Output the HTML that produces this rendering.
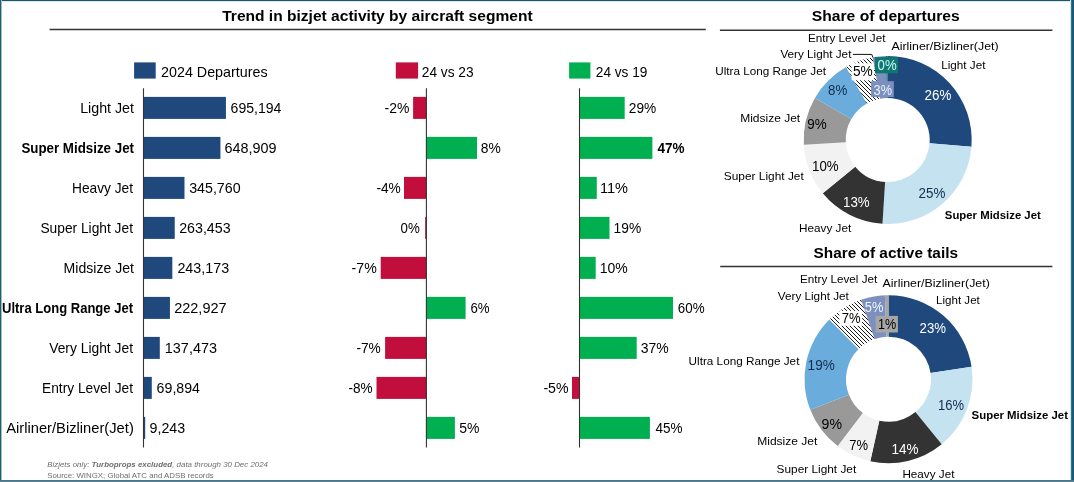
<!DOCTYPE html>
<html><head><meta charset="utf-8"><title>Bizjet activity</title><style>html,body{margin:0;padding:0;background:#fff}svg{display:block;will-change:transform}text{font-family:"Liberation Sans",sans-serif}</style></head><body>
<svg width="1074" height="482" viewBox="0 0 1074 482" font-family="Liberation Sans, sans-serif">
<defs><pattern id="hatch" patternUnits="userSpaceOnUse" width="4" height="4"><rect width="4" height="4" fill="#fff"/><path d="M-1,-1 L5,5 M-1,3 L1,5 M3,-1 L5,1" stroke="#000" stroke-width="0.9"/></pattern></defs>
<rect width="1074" height="482" fill="#fff"/>
<rect x="144" y="96.90" width="81.92" height="22.0" fill="#1f497d"/>
<rect x="144" y="136.90" width="76.43" height="22.0" fill="#1f497d"/>
<rect x="144" y="176.90" width="40.49" height="22.0" fill="#1f497d"/>
<rect x="144" y="216.90" width="30.73" height="22.0" fill="#1f497d"/>
<rect x="144" y="256.90" width="28.33" height="22.0" fill="#1f497d"/>
<rect x="144" y="296.90" width="25.93" height="22.0" fill="#1f497d"/>
<rect x="144" y="336.90" width="15.80" height="22.0" fill="#1f497d"/>
<rect x="144" y="376.90" width="7.79" height="22.0" fill="#1f497d"/>
<rect x="144" y="416.90" width="1.20" height="22.0" fill="#1f497d"/>
<rect x="413.10" y="96.90" width="13.30" height="22.0" fill="#c20e3d"/>
<rect x="426.40" y="136.90" width="50.60" height="22.0" fill="#00b050"/>
<rect x="404.00" y="176.90" width="22.40" height="22.0" fill="#c20e3d"/>
<rect x="425.20" y="216.90" width="1.20" height="22.0" fill="#c20e3d"/>
<rect x="380.70" y="256.90" width="45.70" height="22.0" fill="#c20e3d"/>
<rect x="426.40" y="296.90" width="39.20" height="22.0" fill="#00b050"/>
<rect x="385.10" y="336.90" width="41.30" height="22.0" fill="#c20e3d"/>
<rect x="376.50" y="376.90" width="49.90" height="22.0" fill="#c20e3d"/>
<rect x="426.40" y="416.90" width="28.50" height="22.0" fill="#00b050"/>
<rect x="579.60" y="96.90" width="45.10" height="22.0" fill="#00b050"/>
<rect x="579.60" y="136.90" width="72.80" height="22.0" fill="#00b050"/>
<rect x="579.60" y="176.90" width="17.20" height="22.0" fill="#00b050"/>
<rect x="579.60" y="216.90" width="29.90" height="22.0" fill="#00b050"/>
<rect x="579.60" y="256.90" width="16.10" height="22.0" fill="#00b050"/>
<rect x="579.60" y="296.90" width="93.40" height="22.0" fill="#00b050"/>
<rect x="579.60" y="336.90" width="57.10" height="22.0" fill="#00b050"/>
<rect x="572.00" y="376.90" width="7.60" height="22.0" fill="#c20e3d"/>
<rect x="579.60" y="416.90" width="70.30" height="22.0" fill="#00b050"/>
<line x1="143.5" y1="88.2" x2="143.5" y2="447.6" stroke="#333" stroke-width="1.1"/>
<line x1="426.4" y1="88.2" x2="426.4" y2="447.6" stroke="#333" stroke-width="1.1"/>
<line x1="579.5" y1="88.2" x2="579.5" y2="447.6" stroke="#333" stroke-width="1.1"/>
<rect x="134.1" y="62.4" width="21.6" height="16.2" fill="#1f497d"/>
<rect x="395.8" y="62.4" width="22.3" height="16.2" fill="#c20e3d"/>
<rect x="569.1" y="62.4" width="21.3" height="16.2" fill="#00b050"/>
<line x1="49.6" y1="29.6" x2="705.8" y2="29.6" stroke="#333" stroke-width="1.5"/>
<line x1="719.9" y1="30.3" x2="1052.4" y2="30.3" stroke="#333" stroke-width="1.5"/>
<line x1="720.2" y1="266.5" x2="1052.4" y2="266.5" stroke="#333" stroke-width="1.5"/>
<path d="M887.700,56.000 A84,84 0 0 1 971.429,146.737 L929.565,143.368 A42,42 0 0 0 887.700,98.000 Z" fill="#1f497d"/>
<path d="M971.429,146.737 A84,84 0 0 1 882.484,223.838 L885.092,181.919 A42,42 0 0 0 929.565,143.368 Z" fill="#c4e2f0"/>
<path d="M882.484,223.838 A84,84 0 0 1 822.790,193.317 L855.245,166.659 A42,42 0 0 0 885.092,181.919 Z" fill="#333333"/>
<path d="M822.790,193.317 A84,84 0 0 1 803.834,144.748 L845.767,142.374 A42,42 0 0 0 855.245,166.659 Z" fill="#f2f2f2"/>
<path d="M803.834,144.748 A84,84 0 0 1 814.932,98.038 L851.316,119.019 A42,42 0 0 0 845.767,142.374 Z" fill="#999999"/>
<path d="M814.932,98.038 A84,84 0 0 1 846.081,67.035 L866.891,103.517 A42,42 0 0 0 851.316,119.019 Z" fill="#6aaddd"/>
<path d="M846.081,67.035 A84,84 0 0 1 872.681,57.354 L880.190,98.677 A42,42 0 0 0 866.891,103.517 Z" fill="url(#hatch)"/>
<path d="M872.681,57.354 A84,84 0 0 1 885.853,56.020 L886.776,98.010 A42,42 0 0 0 880.190,98.677 Z" fill="#7d8fbf"/>
<path d="M885.853,56.020 A84,84 0 0 1 887.700,56.000 L887.700,98.000 A42,42 0 0 0 886.776,98.010 Z" fill="#0f7670"/>
<path d="M888.500,295.200 A84,84 0 0 1 971.577,366.784 L930.533,372.918 A42.5,42.5 0 0 0 888.500,336.700 Z" fill="#1f497d"/>
<path d="M971.577,366.784 A84,84 0 0 1 941.704,444.203 L915.419,412.088 A42.5,42.5 0 0 0 930.533,372.918 Z" fill="#c4e2f0"/>
<path d="M941.704,444.203 A84,84 0 0 1 870.319,461.209 L879.301,420.693 A42.5,42.5 0 0 0 915.419,412.088 Z" fill="#333333"/>
<path d="M870.319,461.209 A84,84 0 0 1 837.714,446.109 L862.805,413.053 A42.5,42.5 0 0 0 879.301,420.693 Z" fill="#f2f2f2"/>
<path d="M837.714,446.109 A84,84 0 0 1 810.291,409.850 L848.930,394.707 A42.5,42.5 0 0 0 862.805,413.053 Z" fill="#999999"/>
<path d="M810.291,409.850 A84,84 0 0 1 829.415,319.493 L858.606,348.991 A42.5,42.5 0 0 0 848.930,394.707 Z" fill="#6aaddd"/>
<path d="M829.415,319.493 A84,84 0 0 1 861.152,299.776 L874.663,339.015 A42.5,42.5 0 0 0 858.606,348.991 Z" fill="url(#hatch)"/>
<path d="M861.152,299.776 A84,84 0 0 1 884.836,295.280 L886.646,336.740 A42.5,42.5 0 0 0 874.663,339.015 Z" fill="#7d8fbf"/>
<path d="M884.836,295.280 A84,84 0 0 1 888.500,295.200 L888.500,336.700 A42.5,42.5 0 0 0 886.646,336.740 Z" fill="#a6a6a6"/>
<rect x="874.9" y="57.1" width="23.1" height="16.2" fill="#0f7670"/>
<rect x="871.1" y="81.2" width="22.7" height="15.9" fill="#7d8fbf"/>
<rect x="851.6" y="63.3" width="22.4" height="17.0" fill="#ffffff"/>
<rect x="875.6" y="315.9" width="22.3" height="16.6" fill="#a6a6a6"/>
<rect x="839.3" y="310.9" width="22.8" height="14.9" fill="#ffffff"/>
<polyline points="852.9,54.4 871.8,54.4 872.9,57.5" fill="none" stroke="#111" stroke-width="1"/>
<text x="222.20" y="20.80" font-size="15.5" textLength="310.40" lengthAdjust="spacingAndGlyphs" font-weight="bold">Trend in bizjet activity by aircraft segment</text>
<text x="811.80" y="20.90" font-size="15.0" textLength="148.00" lengthAdjust="spacingAndGlyphs" font-weight="bold">Share of departures</text>
<text x="813.60" y="258.00" font-size="15.0" textLength="144.40" lengthAdjust="spacingAndGlyphs" font-weight="bold">Share of active tails</text>
<text x="161.00" y="76.60" font-size="14.4" textLength="106.60" lengthAdjust="spacingAndGlyphs">2024 Departures</text>
<text x="421.80" y="76.60" font-size="14.4" textLength="51.80" lengthAdjust="spacingAndGlyphs">24 vs 23</text>
<text x="595.80" y="76.60" font-size="14.4" textLength="51.60" lengthAdjust="spacingAndGlyphs">24 vs 19</text>
<text x="80.20" y="112.90" font-size="14.4" textLength="53.80" lengthAdjust="spacingAndGlyphs">Light Jet</text>
<text x="21.40" y="152.90" font-size="14.4" textLength="112.60" lengthAdjust="spacingAndGlyphs" font-weight="bold">Super Midsize Jet</text>
<text x="72.00" y="192.90" font-size="14.4" textLength="61.00" lengthAdjust="spacingAndGlyphs">Heavy Jet</text>
<text x="40.40" y="232.90" font-size="14.4" textLength="92.60" lengthAdjust="spacingAndGlyphs">Super Light Jet</text>
<text x="63.60" y="272.90" font-size="14.4" textLength="70.40" lengthAdjust="spacingAndGlyphs">Midsize Jet</text>
<text x="2.00" y="312.90" font-size="14.4" textLength="131.00" lengthAdjust="spacingAndGlyphs" font-weight="bold">Ultra Long Range Jet</text>
<text x="49.20" y="352.90" font-size="14.4" textLength="83.80" lengthAdjust="spacingAndGlyphs">Very Light Jet</text>
<text x="42.00" y="392.90" font-size="14.4" textLength="91.00" lengthAdjust="spacingAndGlyphs">Entry Level Jet</text>
<text x="6.20" y="432.90" font-size="14.4" textLength="127.60" lengthAdjust="spacingAndGlyphs">Airliner/Bizliner(Jet)</text>
<text x="230.60" y="112.90" font-size="14.4" textLength="50.80" lengthAdjust="spacingAndGlyphs">695,194</text>
<text x="224.40" y="152.90" font-size="14.4" textLength="52.00" lengthAdjust="spacingAndGlyphs">648,909</text>
<text x="189.20" y="192.90" font-size="14.4" textLength="51.40" lengthAdjust="spacingAndGlyphs">345,760</text>
<text x="179.20" y="232.90" font-size="14.4" textLength="51.40" lengthAdjust="spacingAndGlyphs">263,453</text>
<text x="177.40" y="272.90" font-size="14.4" textLength="51.80" lengthAdjust="spacingAndGlyphs">243,173</text>
<text x="174.20" y="312.90" font-size="14.4" textLength="52.40" lengthAdjust="spacingAndGlyphs">222,927</text>
<text x="164.80" y="352.90" font-size="14.4" textLength="52.20" lengthAdjust="spacingAndGlyphs">137,473</text>
<text x="156.60" y="392.90" font-size="14.4" textLength="43.40" lengthAdjust="spacingAndGlyphs">69,894</text>
<text x="149.60" y="432.90" font-size="14.4" textLength="35.60" lengthAdjust="spacingAndGlyphs">9,243</text>
<text x="384.60" y="112.90" font-size="14.4" textLength="24.80" lengthAdjust="spacingAndGlyphs">-2%</text>
<text x="480.80" y="152.90" font-size="14.4" textLength="20.00" lengthAdjust="spacingAndGlyphs">8%</text>
<text x="376.40" y="192.90" font-size="14.4" textLength="24.40" lengthAdjust="spacingAndGlyphs">-4%</text>
<text x="400.60" y="232.90" font-size="14.4" textLength="19.20" lengthAdjust="spacingAndGlyphs">0%</text>
<text x="351.60" y="272.90" font-size="14.4" textLength="25.20" lengthAdjust="spacingAndGlyphs">-7%</text>
<text x="470.40" y="312.90" font-size="14.4" textLength="19.20" lengthAdjust="spacingAndGlyphs">6%</text>
<text x="356.40" y="352.90" font-size="14.4" textLength="24.40" lengthAdjust="spacingAndGlyphs">-7%</text>
<text x="348.40" y="392.90" font-size="14.4" textLength="24.20" lengthAdjust="spacingAndGlyphs">-8%</text>
<text x="459.20" y="432.90" font-size="14.4" textLength="20.20" lengthAdjust="spacingAndGlyphs">5%</text>
<text x="628.80" y="112.90" font-size="14.4" textLength="27.40" lengthAdjust="spacingAndGlyphs">29%</text>
<text x="657.40" y="152.90" font-size="14.4" textLength="27.00" lengthAdjust="spacingAndGlyphs" font-weight="bold">47%</text>
<text x="600.00" y="192.90" font-size="14.4" textLength="28.00" lengthAdjust="spacingAndGlyphs">11%</text>
<text x="613.60" y="232.90" font-size="14.4" textLength="27.60" lengthAdjust="spacingAndGlyphs">19%</text>
<text x="599.80" y="272.90" font-size="14.4" textLength="28.00" lengthAdjust="spacingAndGlyphs">10%</text>
<text x="677.80" y="312.90" font-size="14.4" textLength="26.80" lengthAdjust="spacingAndGlyphs">60%</text>
<text x="640.80" y="352.90" font-size="14.4" textLength="28.00" lengthAdjust="spacingAndGlyphs">37%</text>
<text x="543.40" y="392.90" font-size="14.4" textLength="25.20" lengthAdjust="spacingAndGlyphs">-5%</text>
<text x="655.60" y="432.90" font-size="14.4" textLength="27.00" lengthAdjust="spacingAndGlyphs">45%</text>
<text x="47.20" y="467.30" font-size="8.0" textLength="220.80" lengthAdjust="spacingAndGlyphs" fill="#6e6e6e" font-style="italic"><tspan>Bizjets only: </tspan><tspan font-weight="bold">Turboprops excluded</tspan><tspan>, data through 30 Dec 2024</tspan></text>
<text x="47.20" y="478.30" font-size="8.0" textLength="166.60" lengthAdjust="spacingAndGlyphs" fill="#6e6e6e">Source: WINGX; Global ATC and ADSB records</text>
<text x="808.00" y="42.30" font-size="11.8" textLength="77.40" lengthAdjust="spacingAndGlyphs">Entry Level Jet</text>
<text x="891.40" y="50.20" font-size="11.8" textLength="107.20" lengthAdjust="spacingAndGlyphs">Airliner/Bizliner(Jet)</text>
<text x="780.40" y="58.00" font-size="11.8" textLength="71.00" lengthAdjust="spacingAndGlyphs">Very Light Jet</text>
<text x="941.20" y="68.80" font-size="11.8" textLength="44.20" lengthAdjust="spacingAndGlyphs">Light Jet</text>
<text x="715.20" y="74.50" font-size="11.8" textLength="110.80" lengthAdjust="spacingAndGlyphs">Ultra Long Range Jet</text>
<text x="740.20" y="122.20" font-size="11.8" textLength="60.00" lengthAdjust="spacingAndGlyphs">Midsize Jet</text>
<text x="723.80" y="179.90" font-size="11.8" textLength="80.00" lengthAdjust="spacingAndGlyphs">Super Light Jet</text>
<text x="799.00" y="231.60" font-size="11.8" textLength="52.20" lengthAdjust="spacingAndGlyphs">Heavy Jet</text>
<text x="944.80" y="219.30" font-size="11.8" textLength="96.00" lengthAdjust="spacingAndGlyphs" font-weight="bold">Super Midsize Jet</text>
<text x="924.60" y="100.40" font-size="14.0" textLength="26.80" lengthAdjust="spacingAndGlyphs" fill="#ffffff">26%</text>
<text x="918.60" y="197.60" font-size="14.0" textLength="26.80" lengthAdjust="spacingAndGlyphs" fill="#132c4e">25%</text>
<text x="843.00" y="207.40" font-size="14.0" textLength="26.60" lengthAdjust="spacingAndGlyphs" fill="#ffffff">13%</text>
<text x="812.00" y="171.20" font-size="14.0" textLength="26.60" lengthAdjust="spacingAndGlyphs">10%</text>
<text x="807.20" y="128.90" font-size="14.0" textLength="19.40" lengthAdjust="spacingAndGlyphs">9%</text>
<text x="828.00" y="94.50" font-size="14.0" textLength="19.20" lengthAdjust="spacingAndGlyphs" fill="#132c4e">8%</text>
<text x="853.00" y="76.30" font-size="14.0" textLength="19.80" lengthAdjust="spacingAndGlyphs">5%</text>
<text x="873.60" y="94.50" font-size="14.0" textLength="18.40" lengthAdjust="spacingAndGlyphs" fill="#e4f4ff">3%</text>
<text x="877.60" y="70.30" font-size="14.0" textLength="19.00" lengthAdjust="spacingAndGlyphs" fill="#c8f8f8">0%</text>
<text x="800.00" y="283.40" font-size="11.8" textLength="77.20" lengthAdjust="spacingAndGlyphs">Entry Level Jet</text>
<text x="882.60" y="287.30" font-size="11.8" textLength="107.20" lengthAdjust="spacingAndGlyphs">Airliner/Bizliner(Jet)</text>
<text x="777.80" y="299.60" font-size="11.8" textLength="71.00" lengthAdjust="spacingAndGlyphs">Very Light Jet</text>
<text x="936.00" y="303.60" font-size="11.8" textLength="43.80" lengthAdjust="spacingAndGlyphs">Light Jet</text>
<text x="688.60" y="364.60" font-size="11.8" textLength="110.80" lengthAdjust="spacingAndGlyphs">Ultra Long Range Jet</text>
<text x="757.20" y="444.60" font-size="11.8" textLength="60.20" lengthAdjust="spacingAndGlyphs">Midsize Jet</text>
<text x="776.60" y="472.50" font-size="11.8" textLength="79.60" lengthAdjust="spacingAndGlyphs">Super Light Jet</text>
<text x="902.40" y="477.70" font-size="11.8" textLength="52.00" lengthAdjust="spacingAndGlyphs">Heavy Jet</text>
<text x="971.60" y="418.90" font-size="11.8" textLength="96.40" lengthAdjust="spacingAndGlyphs" font-weight="bold">Super Midsize Jet</text>
<text x="919.60" y="333.40" font-size="14.0" textLength="26.40" lengthAdjust="spacingAndGlyphs" fill="#ffffff">23%</text>
<text x="938.00" y="409.50" font-size="14.0" textLength="26.00" lengthAdjust="spacingAndGlyphs" fill="#132c4e">16%</text>
<text x="891.60" y="454.10" font-size="14.0" textLength="27.00" lengthAdjust="spacingAndGlyphs" fill="#ffffff">14%</text>
<text x="849.20" y="450.30" font-size="14.0" textLength="18.80" lengthAdjust="spacingAndGlyphs">7%</text>
<text x="821.60" y="428.60" font-size="14.0" textLength="20.40" lengthAdjust="spacingAndGlyphs">9%</text>
<text x="807.60" y="369.90" font-size="14.0" textLength="27.20" lengthAdjust="spacingAndGlyphs" fill="#132c4e">19%</text>
<text x="841.80" y="323.00" font-size="14.0" textLength="18.80" lengthAdjust="spacingAndGlyphs">7%</text>
<text x="864.80" y="312.30" font-size="14.0" textLength="18.60" lengthAdjust="spacingAndGlyphs" fill="#eaf8ff">5%</text>
<text x="878.00" y="329.40" font-size="14.0" textLength="18.20" lengthAdjust="spacingAndGlyphs">1%</text>
<rect x="0" y="0" width="1074" height="1" fill="#225263"/>
<rect x="0" y="1" width="1074" height="1" fill="#d4f2f6"/>
<rect x="0" y="0" width="1" height="482" fill="#2b5b6b"/>
<rect x="1" y="0" width="1" height="482" fill="#9dbfc8"/>
<rect x="1070" y="0" width="1" height="482" fill="#c8eef4"/>
<rect x="1071" y="0" width="1" height="482" fill="#3d6e80"/>
<rect x="1072" y="0" width="2" height="482" fill="#1a5a78"/>
<rect x="0" y="480" width="1074" height="1" fill="#4f7588"/>
<rect x="0" y="481" width="1074" height="1" fill="#57879b"/>
</svg>
</body></html>
